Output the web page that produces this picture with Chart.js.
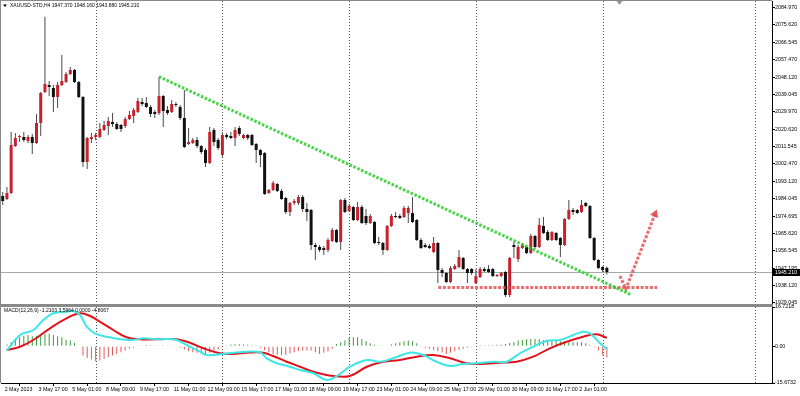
<!DOCTYPE html>
<html>
<head>
<meta charset="utf-8">
<script src="https://cdn.jsdelivr.net/npm/chart.js@4.4.0/dist/chart.umd.min.js"></script>
<style>
  body { margin: 0; background: #fff; width: 800px; height: 396px; overflow: hidden; position: relative; }
  #price { position: absolute; left: 0; top: 0; }
  #macd { position: absolute; left: 0; top: 304px; }
</style>
</head>
<body>
<canvas id="price" width="800" height="305"></canvas>
<canvas id="macd" width="800" height="92"></canvas>
<script>
const FONT = '"Liberation Sans", Arial, sans-serif';

// H4 candles, bar index 0 = 2 May 09:00
const opens = [1985.33,1983.75,1986.92,2011.73,2016.49,2016.49,2014.37,2016.49,2013.32,2023.88,
  2040.24,2043.94,2042.36,2037.60,2043.94,2045.52,2049.75,2051.86,2045.52,2037.60,
  2003.28,2015.43,2016.49,2016.49,2020.18,2022.29,2024.40,2023.35,2022.82,2022.29,
  2025.99,2027.57,2029.69,2034.96,2034.44,2032.32,2029.69,2029.16,2038.14,2030.74,
  2029.69,2033.91,2032.32,2026.52,2012.79,2013.32,2014.90,2011.73,2009.62,2002.76,
  2020.18,2014.90,2006.98,2017.54,2017.01,2015.96,2021.24,2015.96,2017.54,2017.54,
  2012.79,2009.62,2008.04,1986.92,1988.50,1991.67,1987.97,1984.28,1976.88,1981.64,
  1981.64,1984.80,1978.47,1977.94,1959.46,1958.40,1957.88,1956.82,1961.57,1967.38,
  1961.04,1983.22,1977.41,1979.53,1972.66,1979.53,1974.77,1971.08,1971.60,1961.04,
  1960.52,1956.82,1969.49,1974.77,1974.77,1974.24,1976.36,1976.36,1972.66,1962.10,
  1959.46,1958.93,1955.76,1960.52,1946.26,1944.68,1939.92,1946.79,1947.84,1952.60,
  1946.79,1946.79,1939.40,1942.56,1946.79,1946.79,1946.79,1943.09,1943.09,1945.20,
  1933.06,1959.46,1952.07,1957.88,1958.40,1955.23,1964.21,1958.40,1969.49,1966.32,
  1962.10,1965.80,1963.16,1959.46,1973.19,1977.94,1977.94,1976.88,1981.64,1980.05,
  1963.16,1951.54,1947.84,1947.37];
const highs = [1987.44,1990.08,2019.12,2018.60,2017.54,2019.12,2017.54,2018.07,2028.63,2040.24,
  2080.00,2046.05,2043.94,2045.52,2059.78,2050.80,2053.44,2052.39,2046.05,2038.14,
  2016.49,2018.60,2018.60,2023.88,2024.93,2027.04,2029.16,2024.40,2023.35,2027.04,
  2030.21,2031.80,2037.08,2037.08,2037.60,2033.38,2030.74,2048.16,2038.66,2032.85,
  2036.02,2034.96,2033.38,2041.30,2021.24,2015.96,2016.49,2012.26,2010.68,2021.76,
  2021.24,2015.96,2019.12,2018.60,2019.12,2021.76,2022.29,2018.07,2018.07,2018.07,
  2013.32,2010.15,2008.56,1989.03,1993.25,1992.20,1989.03,1984.80,1982.17,1983.75,
  1985.86,1985.86,1981.64,1978.47,1960.52,1959.46,1958.93,1963.16,1968.44,1967.91,
  1983.75,1984.28,1981.11,1980.05,1982.17,1980.58,1978.47,1975.83,1972.13,1963.68,
  1961.04,1970.02,1975.83,1976.88,1975.83,1980.05,1980.05,1984.80,1973.19,1963.16,
  1960.52,1959.99,1963.68,1961.04,1947.32,1945.20,1948.37,1949.43,1956.82,1953.12,
  1947.32,1947.32,1946.79,1947.84,1947.84,1948.90,1947.32,1944.15,1945.20,1945.73,
  1953.12,1961.04,1959.46,1960.52,1959.46,1965.27,1964.74,1973.72,1974.24,1967.38,
  1966.85,1966.32,1963.68,1973.72,1983.22,1979.00,1978.47,1983.22,1982.17,1980.58,
  1963.68,1952.07,1948.37,1948.16];
const lows = [1980.58,1983.22,1986.39,2011.20,2013.84,2013.84,2013.32,2007.51,2012.79,2017.01,
  2039.72,2038.14,2029.69,2031.80,2043.41,2044.99,2049.22,2044.99,2037.08,2000.64,
  1999.58,2013.32,2014.90,2015.96,2019.65,2017.54,2021.76,2020.18,2019.12,2021.24,
  2025.46,2023.88,2029.16,2032.85,2031.80,2027.04,2026.52,2028.10,2021.76,2028.10,
  2029.16,2032.32,2025.46,2010.68,2012.26,2012.79,2010.68,2007.51,2000.64,2002.23,
  2011.73,2009.62,2005.40,2015.43,2015.43,2011.73,2017.01,2015.43,2014.90,2011.73,
  2002.76,2000.64,1985.86,1986.39,1987.97,1987.44,1983.22,1975.83,1974.77,1980.58,
  1980.58,1976.88,1972.13,1956.82,1951.54,1955.76,1954.18,1955.76,1961.04,1960.52,
  1956.82,1976.36,1976.88,1972.13,1972.13,1970.55,1970.02,1970.55,1959.99,1959.46,
  1954.18,1956.29,1968.96,1973.72,1973.19,1973.72,1971.08,1971.08,1961.57,1957.35,
  1957.88,1957.35,1955.23,1939.40,1942.56,1939.40,1939.40,1946.26,1947.32,1946.26,
  1939.40,1943.62,1938.87,1942.04,1945.20,1944.68,1942.56,1942.56,1942.56,1932.00,
  1932.00,1952.60,1950.48,1957.35,1954.71,1954.71,1957.35,1957.88,1965.27,1961.57,
  1961.57,1961.57,1953.12,1958.93,1972.66,1975.30,1975.83,1976.36,1979.53,1962.63,
  1951.01,1946.79,1945.20,1943.88];
const closes = [1982.69,1986.92,2012.26,2015.96,2016.60,2014.90,2016.49,2013.32,2023.88,2039.72,
  2044.47,2042.88,2037.60,2043.94,2046.05,2049.75,2051.86,2045.52,2037.60,2003.28,
  2015.96,2016.49,2017.54,2020.71,2022.82,2024.93,2023.35,2020.71,2020.71,2025.99,
  2028.10,2030.74,2035.49,2033.91,2032.32,2028.63,2028.63,2038.14,2030.21,2029.16,
  2033.91,2033.38,2026.52,2011.20,2013.84,2014.90,2011.73,2008.56,2002.76,2019.12,
  2013.84,2010.68,2017.54,2016.49,2015.96,2020.18,2018.07,2017.54,2015.96,2012.26,
  2009.62,2006.98,1986.39,1988.50,1992.20,1987.97,1983.75,1976.88,1981.64,1982.69,
  1984.80,1978.47,1976.88,1959.46,1958.40,1956.82,1956.82,1962.10,1967.38,1961.04,
  1983.22,1976.88,1980.05,1972.66,1979.53,1971.08,1971.08,1974.77,1960.52,1960.52,
  1956.82,1969.49,1974.77,1974.24,1973.72,1979.00,1979.00,1971.60,1962.10,1957.88,
  1958.40,1957.88,1960.52,1946.26,1944.68,1939.92,1947.32,1948.37,1953.12,1946.79,
  1944.68,1944.68,1943.09,1946.79,1945.73,1945.20,1943.09,1943.20,1944.68,1933.06,
  1952.60,1958.40,1958.40,1959.46,1955.23,1964.21,1958.40,1970.02,1965.80,1962.10,
  1966.32,1962.10,1959.46,1973.19,1977.94,1976.88,1976.36,1980.58,1980.05,1963.16,
  1951.54,1947.32,1946.26,1945.21];

const priceTicks = ['2084.970','2075.620','2066.545','2057.470','2048.120','2039.045','2029.970',
  '2020.620','2011.545','2002.470','1993.120','1984.045','1974.695','1965.620','1956.545',
  '1947.195','1938.120','1929.045'];
const xTickIdx = [0,8,16,24,32,40,48,56,64,72,80,88,96,104,112,120,128,136];
const xTickLabels = ['2 May 2023','3 May 17:00','5 May 01:00','8 May 09:00','9 May 17:00',
  '11 May 01:00','12 May 09:00','15 May 17:00','17 May 01:00','18 May 09:00','19 May 17:00',
  '23 May 01:00','24 May 09:00','25 May 17:00','29 May 01:00','30 May 09:00','31 May 17:00','2 Jun 01:00'];
const separators = [22, 52, 82, 112, 142, 178];
const shiftIdx = 146;
const bid = 1945.21;
const title = 'XAUUSD-STD,H4 1947.370 1948.160 1943.880 1945.210';

// drawings on the price window
const trendX = [37, 148.9];
const trendY = [2048.32, 1933.06];
const supportX = [103.1, 154.9];
const supportY = [1937.0, 1937.0];
const arrowX = [146.1, 147.5, 154.4];
const arrowY = [1943.1, 1936.2, 1975.8];

// MACD(12,26,9)
const macdLabel = 'MACD(12,26,9) -1.2103 3.5964 0.0000 -4.8067';
const macdTicks = ['16.7218', '0.00', '-15.6732'];
const mainX = [0.95,4.1,7.25,9.6,12,15.1,16.7,18.3,19.9,21.8,24.6,27.8,30.9,33.3,36.5,38.8,41.2,43.6,
  46.7,48.3,51.4,54.6,57.8,60.9,62.5,64.9,68,70.4,73.5,76.7,79.1,82.2,86.2,89.3,92.4,96.4,99.5,
  102.7,105.9,109,112.2,116.1,119.3,122.4,125.6,128.8,131.9,135.1,137.4,139,141.4,143];
const mainY = [-1.91,4.79,6.92,11.18,14.03,14.72,15.0,13.31,8.33,5.51,4.06,2.95,2.66,3.38,2.95,3.08,2.66,0.53,
  -2.33,-3.74,-3.44,-2.76,-2.33,-2.59,-5.15,-7.28,-8.73,-10.13,-11.54,-14.40,-12.69,-8.73,-5.87,-6.60,-5.15,-2.76,-3.74,
  -6.60,-8.43,-7.58,-7.28,-6.60,-6.60,-3.01,-0.20,2.36,2.66,4.79,6.19,5.51,1.25,-1.21];
const signalX = [0.95,4.1,7.25,11.2,15.1,18.3,20.7,23,26.2,29.3,32.5,36.5,41.2,44.3,47.5,51.4,54.6,57.8,
  61.7,64,67.2,70.4,73.5,78.3,82.2,86.2,90.1,94,98,101.9,105.9,109.8,113,117.7,121.6,125.6,129.5,
  133.5,137.4,140.5,143];
const signalY = [-1.61,-0.20,2.66,7.64,11.90,14.03,12.88,10.46,6.92,3.81,2.95,2.95,2.95,1.51,-0.88,-3.01,-3.31,-2.76,
  -2.76,-4.17,-6.60,-8.73,-10.86,-12.69,-12.69,-8.73,-6.60,-5.87,-4.46,-3.74,-5.15,-7.28,-7.58,-7.02,-6.60,-4.46,-0.88,
  1.93,4.06,5.08,3.60];
const osma = [0,0.7,1.7,2.7,3.8,4.5,4.8,4.3,4.5,4.8,
  5.3,5.3,4.8,4.3,3.8,2.8,2.4,1.4,0.2,-4.0,
  -5.0,-5.7,-6.4,-6.1,-5.4,-4.7,-4.0,-3.3,-2.6,-1.8,
  -1.1,-0.7,0.3,0.3,0.4,0.4,0.3,0.3,0.15,0.15,
  0.1,-0.15,-0.7,-1.4,-2.1,-2.6,-2.8,-3.1,-3.4,-2.8,
  -2.1,-1.4,-0.4,0.15,0.7,0.85,0.85,0.7,0.6,0.4,
  0.15,-0.7,-1.7,-2.6,-3.3,-3.6,-3.8,-3.6,-3.1,-2.6,
  -2.0,-1.8,-1.8,-1.8,-2.6,-3.3,-2.8,-2.1,-1.1,1.0,
  1.7,2.4,3.6,3.8,3.8,3.1,2.1,1.3,0.6,0.3,
  0.15,0,0.7,1.3,1.7,2.1,2.4,2.1,1.3,-0.1,
  -0.7,-1.1,-1.6,-2.1,-2.6,-3.3,-2.8,-2.1,-1.6,-1.1,
  -0.7,-0.3,0,0.4,0.3,0.4,0.4,0.6,0.6,1.0,
  1.4,1.8,2.4,2.7,3.0,3.1,3.1,3.0,2.7,2.4,
  2.7,2.4,2.1,2.0,2.1,1.8,1.7,1.7,1.3,0.6,
  -0.4,-1.8,-4.0,-4.8];

const xMin = -0.40, xMax = 182.09;
const font = { family: FONT, size: 5.3 };

const pts = (xs, ys) => xs.map((x, i) => ({ x: x, y: ys[i] }));
const bull = closes.map((c, i) => c > opens[i]);

function drawSeparators(chart) {
  const { ctx, chartArea: a, scales: { x } } = chart;
  ctx.save();
  ctx.strokeStyle = '#555';
  ctx.lineWidth = 1;
  ctx.setLineDash([1, 2]);
  separators.forEach(s => {
    const px = Math.round(x.getPixelForValue(s)) + 0.5;
    ctx.beginPath();
    ctx.moveTo(px, a.top);
    ctx.lineTo(px, a.bottom);
    ctx.stroke();
  });
  ctx.restore();
}

const priceDecor = {
  id: 'priceDecor',
  beforeDatasetsDraw(chart) {
    const { ctx, chartArea: a, scales: { y } } = chart;
    drawSeparators(chart);
    const by = Math.round(y.getPixelForValue(bid)) + 0.5;
    ctx.save();
    ctx.strokeStyle = '#a8a8a8';
    ctx.lineWidth = 1;
    ctx.beginPath();
    ctx.moveTo(a.left, by);
    ctx.lineTo(a.right, by);
    ctx.stroke();
    ctx.restore();
  },
  afterDraw(chart) {
    const { ctx, chartArea: a, scales: { x, y } } = chart;
    ctx.save();
    // window frame
    ctx.fillStyle = '#8a8a8a';
    ctx.fillRect(0, 0, a.right, 1);
    ctx.fillRect(0, 0, 1, chart.height);
    // symbol line
    ctx.fillStyle = '#000';
    ctx.beginPath();
    ctx.moveTo(3, 4.5); ctx.lineTo(7, 4.5); ctx.lineTo(5, 7);
    ctx.fill();
    ctx.font = '5px ' + FONT;
    ctx.textBaseline = 'middle';
    ctx.textAlign = 'left';
    ctx.fillText(title, 10, 6);
    // chart shift marker
    const sx = x.getPixelForValue(shiftIdx);
    ctx.fillStyle = '#999';
    ctx.beginPath();
    ctx.moveTo(sx - 3, 1); ctx.lineTo(sx + 3, 1); ctx.lineTo(sx, 5);
    ctx.fill();
    // bid label
    const by = Math.round(y.getPixelForValue(bid)) + 0.5;
    ctx.fillStyle = '#000';
    ctx.fillRect(a.right + 1, by - 3.5, 27, 7);
    ctx.fillStyle = '#fff';
    ctx.font = '5.3px ' + FONT;
    ctx.fillText(bid.toFixed(3), a.right + 3, by);
    ctx.restore();
  }
};

const macdDecor = {
  id: 'macdDecor',
  beforeDatasetsDraw(chart) {
    drawSeparators(chart);
  },
  afterDraw(chart) {
    const { ctx, chartArea: a } = chart;
    ctx.save();
    ctx.fillStyle = '#8a8a8a';
    ctx.fillRect(0, 0, a.right + 1, 3);
    ctx.fillRect(0, 0, 1, a.bottom);
    ctx.fillStyle = '#000';
    ctx.font = '5px ' + FONT;
    ctx.textBaseline = 'middle';
    ctx.textAlign = 'left';
    ctx.fillText(macdLabel, 4, 7);
    ctx.restore();
  }
};

new Chart('price', {
  type: 'bar',
  data: {
    datasets: [{
      label: 'wick',
      data: opens.map((o, i) => ({ x: i, y: [lows[i], highs[i]] })),
      backgroundColor: '#4a4a4a',
      grouped: false,
      maxBarThickness: 1,
      order: 3
    }, {
      label: 'body',
      data: opens.map((o, i) => ({ x: i, y: [o, closes[i]] })),
      backgroundColor: bull.map(b => b ? '#c8202c' : '#111'),
      grouped: false,
      maxBarThickness: 3,
      minBarLength: 1,
      order: 2
    }, {
      type: 'line',
      label: 'trend',
      data: pts(trendX, trendY),
      borderColor: 'rgba(40,205,40,0.85)',
      borderWidth: 3,
      borderDash: [2.5, 1.7],
      pointRadius: 0,
      order: 1
    }, {
      type: 'line',
      label: 'support',
      data: pts(supportX, supportY),
      borderColor: 'rgba(228,72,72,0.8)',
      borderWidth: 3,
      borderDash: [3, 1.6],
      pointRadius: 0,
      order: 1
    }, {
      type: 'line',
      label: 'arrow',
      data: pts(arrowX, arrowY),
      borderColor: 'rgba(228,72,72,0.8)',
      borderWidth: 3,
      borderDash: [3, 1.6],
      pointRadius: [0, 0, 5],
      pointStyle: 'triangle',
      rotation: 21,
      pointBackgroundColor: 'rgba(228,72,72,0.9)',
      pointBorderWidth: 0,
      order: 1
    }]
  },
  options: {
    responsive: false,
    animation: false,
    events: [],
    layout: { autoPadding: false, padding: { top: 1, left: 1, right: 0, bottom: 1 } },
    plugins: { legend: { display: false }, tooltip: { enabled: false } },
    scales: {
      x: { type: 'linear', min: xMin, max: xMax, offset: false, display: false },
      y: {
        position: 'right',
        min: 1928.31,
        max: 2088.29,
        afterBuildTicks: s => { s.ticks = priceTicks.map(t => ({ value: parseFloat(t) })); },
        afterFit: s => { s.width = 28; s.paddingTop = 0; s.paddingBottom = 0; },
        ticks: { padding: 0, font: font, color: '#000', callback: (v, i) => priceTicks[i] },
        grid: { drawOnChartArea: false, tickLength: 3, color: '#000' },
        border: { display: true, color: '#000' }
      }
    }
  },
  plugins: [priceDecor]
});

new Chart('macd', {
  type: 'bar',
  data: {
    datasets: [{
      label: 'OsMA',
      data: osma.map((v, i) => ({ x: i, y: v })),
      backgroundColor: osma.map(v => v >= 0 ? '#3d9a3d' : '#e25a5a'),
      grouped: false,
      maxBarThickness: 1,
      order: 3
    }, {
      type: 'line',
      label: 'Signal',
      data: pts(signalX, signalY),
      borderColor: '#e0141e',
      borderWidth: 2,
      tension: 0.4,
      pointRadius: 0,
      order: 2
    }, {
      type: 'line',
      label: 'MACD',
      data: pts(mainX, mainY),
      borderColor: '#3ee6e6',
      borderWidth: 2,
      tension: 0.4,
      pointRadius: 0,
      order: 1
    }]
  },
  options: {
    responsive: false,
    animation: false,
    events: [],
    layout: { autoPadding: false, padding: { top: 3, left: 1, right: 0, bottom: 0 } },
    plugins: { legend: { display: false }, tooltip: { enabled: false } },
    scales: {
      x: {
        type: 'linear',
        min: xMin,
        max: xMax,
        offset: false,
        afterBuildTicks: s => { s.ticks = xTickIdx.map(v => ({ value: v })); },
        afterFit: s => { s.height = 13; s.paddingLeft = 0; s.paddingRight = 0; },
        ticks: { autoSkip: false, maxRotation: 0, minRotation: 0, align: 'start', padding: 0, labelOffset: 2,
                 font: font, color: '#000', callback: (v, i) => xTickLabels[i] },
        grid: { drawOnChartArea: false, tickLength: 3, color: '#000' },
        border: { display: true, color: '#000' }
      },
      y: {
        position: 'right',
        min: -15.6732,
        max: 16.7218,
        afterBuildTicks: s => { s.ticks = macdTicks.map(t => ({ value: parseFloat(t) })); },
        afterFit: s => { s.width = 28; s.paddingTop = 0; s.paddingBottom = 0; },
        ticks: { padding: 0, font: font, color: '#000', callback: (v, i) => macdTicks[i] },
        grid: { drawOnChartArea: false, tickLength: 3, color: '#000' },
        border: { display: true, color: '#000' }
      }
    }
  },
  plugins: [macdDecor]
});
</script>
</body>
</html>
